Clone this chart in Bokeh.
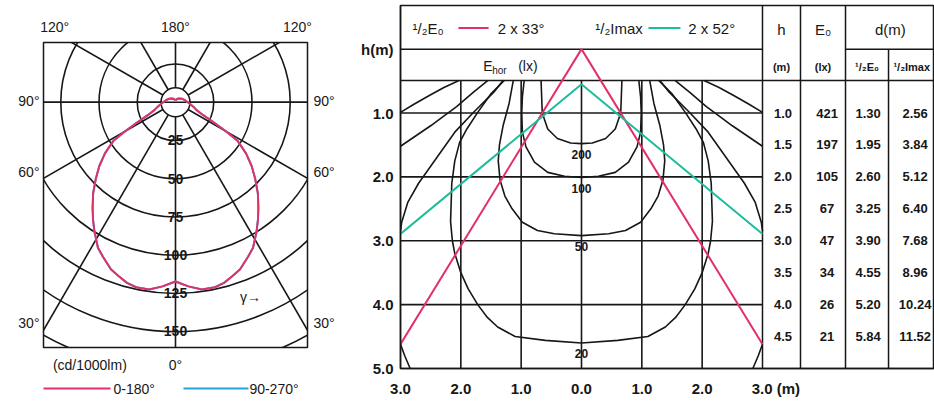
import numpy as np
from bokeh.plotting import figure
from bokeh.layouts import row, column
from bokeh.models import Range1d, FixedTicker, LinearAxis
from bokeh.embed import file_html
from bokeh.resources import INLINE
from bokeh.core.properties import value

# ---------------- luminous intensity distribution (cd/1000 lm) ----------------
gamma_deg = [0, 4, 8, 12, 15, 18, 21, 25, 28, 32, 35, 38, 42, 46, 50, 54, 58,
             60, 62, 65, 70, 75, 80, 90, 105, 120, 135, 150, 165, 180]
intensity_c0_c180 = [117.5, 121, 124, 124, 122.6, 120, 117.5, 112, 108, 100, 94, 88,
                     80.5, 72.5, 65, 57, 48, 38, 29, 20, 14.5, 12.4, 10.5, 8, 6,
                     4.7, 3.5, 2.6, 1.8, 1.3]
intensity_c90_c270 = [117.5, 121, 124, 124, 122.6, 120, 117.5, 112, 108, 100, 94, 88,
                      80.5, 72.5, 65, 57, 48, 38, 29, 20, 14.5, 12.4, 10.5, 8, 6,
                      4.7, 3.5, 2.6, 1.8, 1.3]
ring_values = [25, 50, 75, 100, 125, 150, 175]
ring_labels = ["25", "50", "75", "100", "125", "150"]
hub_radius = 9.5
spoke_angles = [0, 30, 60, 90, 120, 150, 180, 210, 240, 270, 300, 330]
top_angle_labels = ["120°", "180°", "120°"]
side_angle_labels = ["90°", "60°", "30°"]
bottom_labels = ["(cd/1000lm)", "0°"]
plane_labels = ["0-180°", "90-270°"]

# ---------------- isolux diagram (d = horizontal distance, h = height) ----------------
d_ticks = [-3, -2, -1, 0, 1, 2, 3]
d_tick_labels = ["3.0", "2.0", "1.0", "0.0", "1.0", "2.0",
                 "\u2003\u2002\u00a03.0 (m)"]
h_ticks = [0, 1, 2, 3, 4, 5]
h_tick_labels = ["h(m)", "1.0", "2.0", "3.0", "4.0", "5.0"]

# closed isolux lines (one half, mirrored about d = 0)
lux_200_d = [0.67, 0.66, 0.65, 0.56, 0.40, 0.18, 0.0]
lux_200_h = [0.49, 0.75, 1.00, 1.25, 1.40, 1.47, 1.48]
lux_100_d = [0.95, 0.98, 0.99, 0.98, 0.92, 0.78, 0.56, 0.28, 0.0]
lux_100_h = [0.49, 0.75, 1.00, 1.30, 1.53, 1.77, 1.93, 1.99, 2.01]
lux_50_d = [1.13, 1.20, 1.30, 1.36, 1.38, 1.35, 1.27, 1.15, 0.98, 0.73, 0.45, 0.0]
lux_50_h = [0.49, 0.85, 1.20, 1.50, 1.75, 2.05, 2.30, 2.50, 2.71, 2.84, 2.89, 2.92]
lux_20_d = [1.28, 1.50, 1.72, 1.90, 2.02, 2.10, 2.15, 2.17, 2.14, 2.10, 2.00, 1.88,
            1.72, 1.56, 1.39, 1.10, 0.60, 0.0]
lux_20_h = [0.49, 0.70, 0.99, 1.25, 1.46, 1.75, 2.10, 2.70, 3.00, 3.20, 3.50, 3.75,
            4.00, 4.20, 4.35, 4.50, 4.56, 4.60]
# open isolux lines leaving the diagram at d = 3
lux_10_upper_d = [1.30, 1.45, 1.80, 2.10, 2.40, 2.70, 2.88, 2.98, 3.0]
lux_10_upper_h = [0.49, 0.67, 1.00, 1.30, 1.70, 2.10, 2.40, 2.71, 2.85]
lux_10_lower_d = [3.0, 2.93, 2.84]
lux_10_lower_h = [4.62, 4.80, 5.00]
lux_5_d = [1.55, 1.80, 2.07, 2.30, 2.50, 2.75, 3.0]
lux_5_h = [0.49, 0.68, 0.90, 1.06, 1.20, 1.36, 1.52]
lux_2_d = [2.03, 2.28, 2.53, 2.77, 3.0]
lux_2_h = [0.49, 0.60, 0.73, 0.86, 0.99]
lux_label_values = ["200", "100", "50", "20"]

# beam spread (half-angles in degrees) and apex height of the 1/2 Imax cone
half_angle_e0 = 33
half_angle_imax = 52
imax_apex_h = 0.55

# table: mounting height, centre illuminance, beam diameters
table_h = [1.0, 1.5, 2.0, 2.5, 3.0, 3.5, 4.0, 4.5]
table_e0 = [421, 197, 105, 67, 47, 34, 26, 21]
table_d_half_e0 = [1.30, 1.95, 2.60, 3.25, 3.90, 4.55, 5.20, 5.84]
table_d_half_imax = [2.56, 3.84, 5.12, 6.40, 7.68, 8.96, 10.24, 11.52]

INK = "#171717"
RED = "#e2306a"
TEAL = "#1dbd9b"
BLUE = "#27a4dc"
FONT = "Liberation Sans"


def label_axis(ax, ticks, labels, standoff, size="14px", bold=False):
    ax.ticker = FixedTicker(ticks=ticks)
    ax.major_label_overrides = dict(zip(ticks, labels))
    ax.major_tick_in = 0
    ax.major_tick_out = 0
    ax.minor_tick_in = 0
    ax.minor_tick_out = 0
    ax.major_label_standoff = standoff
    ax.major_label_text_font = FONT
    ax.major_label_text_font_size = size
    ax.major_label_text_font_style = "bold" if bold else "normal"
    ax.major_label_text_color = INK


def blank(p):
    p.xgrid.visible = False
    p.ygrid.visible = False
    p.background_fill_color = "white"
    p.border_fill_color = "white"


# =============================== polar diagram ===============================
PX = 1.53           # pixels per cd/1000 lm
X_HALF = 86.3
lp = figure(width=340, height=375, x_range=Range1d(-X_HALF, X_HALF), y_range=Range1d(-160.8, 39.2),
            output_backend="svg", toolbar_location=None, frame_align=False,
            min_border_left=43, min_border_right=33, min_border_top=42, min_border_bottom=27)
blank(lp)
lp.outline_line_color = INK
lp.outline_line_width = 1.5

# angle labels around the frame
top_ticks = [-79, 0, 79.7]
side_ticks = [1, -46, -145]
label_axis(lp.xaxis[0], [-56, 0], bottom_labels, 9)
label_axis(lp.yaxis[0], side_ticks, side_angle_labels, 4)
lp.xaxis.axis_line_color = None
lp.yaxis.axis_line_color = None
ax_top = LinearAxis(axis_line_color=None)
label_axis(ax_top, top_ticks, top_angle_labels, 8)
lp.add_layout(ax_top, "above")
ax_right = LinearAxis(axis_line_color=None)
label_axis(ax_right, side_ticks, side_angle_labels, 6)
lp.add_layout(ax_right, "right")

# rings and spokes
lp.circle(x=[0] * (len(ring_values) + 1), y=[0] * (len(ring_values) + 1),
          radius=[hub_radius] + ring_values, fill_color=None, line_color=INK, line_width=1.6)
a = np.radians(spoke_angles)
reach = 3 * max(ring_values)
lp.segment(x0=hub_radius * np.sin(a), y0=hub_radius * np.cos(a),
           x1=reach * np.sin(a), y1=reach * np.cos(a), line_color=INK, line_width=1.6)
lp.segment(x0=[-reach], y0=[0], x1=[reach], y1=[0], line_color=INK, line_width=1.6)

lp.text(x=[0] * len(ring_labels), y=[-v for v in ring_values[:len(ring_labels)]], text=ring_labels,
        text_align="center", text_baseline="middle", text_font=value(FONT),
        text_font_size="14px", text_font_style="bold", text_color=INK)

g = np.radians(gamma_deg)


def polar_xy(vals):
    r = np.asarray(vals, dtype=float)
    xs = np.concatenate([-(r * np.sin(g))[::-1], (r * np.sin(g))[1:]])
    ys = np.concatenate([-(r * np.cos(g))[::-1], -(r * np.cos(g))[1:]])
    return xs, ys


bx, by = polar_xy(intensity_c90_c270)
lp.line(bx, by, line_color=BLUE, line_width=2)
rx, ry = polar_xy(intensity_c0_c180)
lp.line(rx, ry, line_color=RED, line_width=2)

lp.text(x=[49], y=[-128], text=["γ→"], text_align="center", text_baseline="middle",
        text_font=value(FONT), text_font_size="14px", text_color=INK)

# key for the two C-planes, in a strip below the polar diagram
lg = figure(width=340, height=29, x_range=Range1d(-X_HALF - 43 / PX, X_HALF + 33 / PX),
            y_range=Range1d(-1, 1), output_backend="svg", toolbar_location=None,
            frame_align=False, x_axis_location=None, y_axis_location=None,
            min_border_left=0, min_border_right=0, min_border_top=0, min_border_bottom=0)
blank(lg)
lg.outline_line_color = None
lg.segment(x0=[-X_HALF, 5.2], y0=[0.1, 0.1], x1=[-42.5, 47.7], y1=[0.1, 0.1],
           line_color=[RED, BLUE], line_width=2)
lg.text(x=[-40.5, 48.3], y=[0.1, 0.1], text=plane_labels, text_align="left",
        text_baseline="middle", text_font=value(FONT), text_font_size="14px", text_color=INK)

# =============================== isolux diagram + table ===============================
H_TOP = -0.683
D_RIGHT = 5.851
rp = figure(width=594, height=404, x_range=Range1d(-3.0, D_RIGHT), y_range=Range1d(5.0, H_TOP),
            output_backend="svg", toolbar_location=None, frame_align=False,
            min_border_left=60, min_border_right=0, min_border_top=5, min_border_bottom=36)
blank(rp)
rp.outline_line_color = INK
rp.outline_line_width = 1.5

label_axis(rp.xaxis[0], d_ticks, d_tick_labels, 11, size="15px", bold=True)
label_axis(rp.yaxis[0], h_ticks, h_tick_labels, 7, size="15px", bold=True)
rp.xaxis.axis_line_color = INK
rp.yaxis.axis_line_color = INK
rp.xaxis.axis_line_width = 1.5
rp.yaxis.axis_line_width = 1.5

H_HEAD = 0.0     # bottom of the legend row
H_ROW2 = 0.49    # bottom of the unit row / top of the diagram
COL = [3.63, 4.376, 5.089]

# grid inside the diagram
inner_d = d_ticks[1:-1]
rp.segment(x0=inner_d, y0=[H_ROW2] * len(inner_d), x1=inner_d, y1=[h_ticks[-1]] * len(inner_d),
           line_color=INK, line_width=1.6)
inner_h = h_ticks[1:-1]
rp.segment(x0=[d_ticks[0]] * len(inner_h), y0=inner_h, x1=[d_ticks[-1]] * len(inner_h), y1=inner_h,
           line_color=INK, line_width=1.6)
# header and table rules
rp.segment(x0=[d_ticks[0], COL[1], d_ticks[0], d_ticks[-1], COL[0], COL[1], COL[2]],
           y0=[H_HEAD, H_HEAD, H_ROW2, H_TOP, H_TOP, H_TOP, H_HEAD],
           x1=[d_ticks[-1], D_RIGHT, D_RIGHT, d_ticks[-1], COL[0], COL[1], COL[2]],
           y1=[H_HEAD, H_HEAD, H_ROW2, 5.0, 5.0, 5.0, 5.0],
           line_color=INK, line_width=1.5)

# isolux lines
xs, ys = [], []
for dd, hh in [(lux_200_d, lux_200_h), (lux_100_d, lux_100_h), (lux_50_d, lux_50_h), (lux_20_d, lux_20_h)]:
    dd = np.asarray(dd)
    hh = np.asarray(hh)
    xs.append(np.concatenate([-dd, dd[::-1]]))
    ys.append(np.concatenate([hh, hh[::-1]]))
for dd, hh in [(lux_10_upper_d, lux_10_upper_h), (lux_10_lower_d, lux_10_lower_h),
               (lux_5_d, lux_5_h), (lux_2_d, lux_2_h)]:
    dd = np.asarray(dd)
    xs += [-dd, dd]
    ys += [np.asarray(hh), np.asarray(hh)]
rp.multi_line(xs=xs, ys=ys, line_color=INK, line_width=1.6)

bottoms = [lux_200_h[-1], lux_100_h[-1], lux_50_h[-1], lux_20_h[-1]]
rp.text(x=[0] * 4, y=bottoms, text=lux_label_values, y_offset=6, text_align="center",
        text_baseline="top", text_font=value(FONT), text_font_size="12px",
        text_font_style="bold", text_color=INK)

# beam cones
t33 = np.tan(np.radians(half_angle_e0))
t52 = np.tan(np.radians(half_angle_imax))
edge = d_ticks[-1]
rp.line([-edge, 0, edge], [edge / t33, 0, edge / t33], line_color=RED, line_width=2)
rp.line([-edge, 0, edge], [imax_apex_h + edge / t52, imax_apex_h, imax_apex_h + edge / t52],
        line_color=TEAL, line_width=2)

# legend row
y_leg = -0.33
rp.segment(x0=[-2.04], y0=[y_leg], x1=[-1.54], y1=[y_leg], line_color=RED, line_width=2)
rp.segment(x0=[1.11], y0=[y_leg], x1=[1.64], y1=[y_leg], line_color=TEAL, line_width=2)
rp.text(x=[-2.8, -1.39, 0.23, 1.77], y=[y_leg] * 4,
        text=["¹/₂E₀", f"2 x {half_angle_e0}°", "¹/₂Imax", f"2 x {half_angle_imax}°"],
        text_align="left", text_baseline="middle", text_font=value(FONT),
        text_font_size="15px", text_color=INK)
# unit row
rp.text(x=[-1.63], y=[0.27], text=["E"], text_align="left", text_baseline="middle",
        text_font=value(FONT), text_font_size="14px", text_color=INK)
rp.text(x=[-1.48], y=[0.34], text=["hor"], text_align="left", text_baseline="middle",
        text_font=value(FONT), text_font_size="10px", text_color=INK)
rp.text(x=[-1.05], y=[0.27], text=["(lx)"], text_align="left", text_baseline="middle",
        text_font=value(FONT), text_font_size="14px", text_color=INK)

# table header
rp.text(x=[3.315, 4.003, 5.12], y=[-0.3] * 3, text=["h", "E₀", "d(m)"],
        text_align="center", text_baseline="middle", text_font=value(FONT),
        text_font_size="15px", text_color=INK)
rp.text(x=[3.315, 4.003, 4.733, 5.17], y=[0.28] * 4, text=["(m)", "(lx)", "¹/₂E₀", "¹/₂Imax"],
        text_align=["center", "center", "center", "left"], text_baseline="middle",
        text_font=value(FONT), text_font_size="11px", text_font_style="bold", text_color=INK)

# table body
n = len(table_h)
cells_x = [3.34] * n + [4.07] * n + [4.75] * n + [5.53] * n
cells_y = table_h * 4
cells_t = ([f"{v:.1f}" for v in table_h] + [str(v) for v in table_e0]
           + [f"{v:.2f}" for v in table_d_half_e0] + [f"{v:.2f}" for v in table_d_half_imax])
rp.text(x=cells_x, y=cells_y, text=cells_t, text_align="center", text_baseline="middle",
        text_font=value(FONT), text_font_size="13px", text_font_style="bold", text_color=INK)

layout = row(column(lp, lg), rp)
open("out.html", "w").write(file_html(layout, INLINE))
